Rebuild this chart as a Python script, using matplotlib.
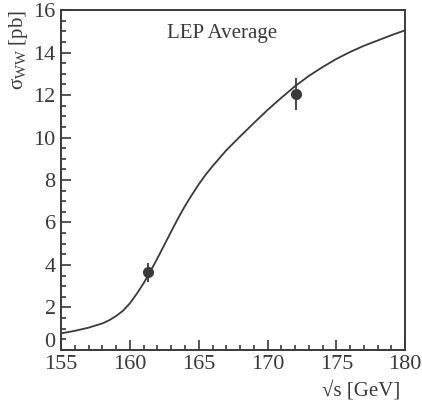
import matplotlib
matplotlib.use("Agg")
import matplotlib.pyplot as plt
import matplotlib.transforms as mtransforms
from matplotlib.ticker import MultipleLocator, FuncFormatter

# theory curve
curve_x = [155, 156, 157, 158, 158.5, 159, 159.5, 160, 160.5, 161, 161.5, 162, 162.5, 163, 163.5,
           164, 164.5, 165, 165.5, 166, 167, 168, 169, 170, 171, 172, 173, 174, 175, 176, 177, 178, 179, 180]
curve_y = [0.78, 0.9, 1.05, 1.25, 1.4, 1.6, 1.85, 2.2, 2.65, 3.15, 3.72, 4.32, 4.95, 5.58, 6.2,
           6.78, 7.3, 7.8, 8.25, 8.65, 9.4, 10.05, 10.68, 11.3, 11.87, 12.42, 12.9, 13.32, 13.7, 14.03, 14.32, 14.57, 14.82, 15.05]

# LEP average measurements
data_x = [161.3, 172.1]
data_y = [3.66, 12.05]
data_err = [0.45, 0.75]

plt.rcParams['font.family'] = ['Liberation Serif', 'DejaVu Serif']
plt.rcParams['mathtext.fontset'] = 'custom'
plt.rcParams['mathtext.rm'] = 'Liberation Serif'
plt.rcParams['mathtext.it'] = 'Liberation Serif:italic'
col = '#3a3a3a'

fig = plt.figure(figsize=(4.22, 4.05), dpi=100)
ax = fig.add_axes([0.145, 0.136, 0.815, 0.839])

ax.plot(curve_x, curve_y, color=col, lw=1.3, solid_joinstyle='round')
ax.errorbar(data_x, data_y, yerr=data_err, fmt='o', color=col, ms=7, elinewidth=1.3, capsize=0)

ax.set_xlim(155, 180)
ax.set_ylim(0, 16)
ax.xaxis.set_major_locator(MultipleLocator(5))
ax.xaxis.set_minor_locator(MultipleLocator(1))
ax.yaxis.set_major_locator(MultipleLocator(2))
ax.yaxis.set_minor_locator(MultipleLocator(0.5))
ax.yaxis.set_major_formatter(FuncFormatter(lambda v, p: '' if abs(v) < 1e-9 else f'{v:.0f}'))
ax.tick_params(which='both', direction='in', top=False, right=False, colors=col,
               labelsize=16, width=1.2)
ax.tick_params(which='major', length=7, pad=4)
ax.tick_params(which='minor', length=3.5)
for s in ax.spines.values():
    s.set_color(col)
    s.set_linewidth(1.4)

# "0" label of the y axis, lifted slightly above the "155" label as in the original
zero_tr = ax.get_yaxis_transform() + mtransforms.ScaledTranslation(-4 / 72, 5 / 72, fig.dpi_scale_trans)
ax.text(0, 0, '0', transform=zero_tr, ha='right', va='center', fontsize=16, color=col)

ax.text(0.468, 0.93, 'LEP Average', transform=ax.transAxes, ha='center', va='center',
        fontsize=15, color=col)

fig.text(0.948, 0.035, '\u221as [GeV]', ha='right', va='center', fontsize=15, color=col)
fig.text(0.045, 0.975, r'$\mathrm{\sigma_{WW}}$ [pb]', rotation=90, ha='center', va='top',
         fontsize=15, color=col)

fig.savefig('out.png', dpi=100)
